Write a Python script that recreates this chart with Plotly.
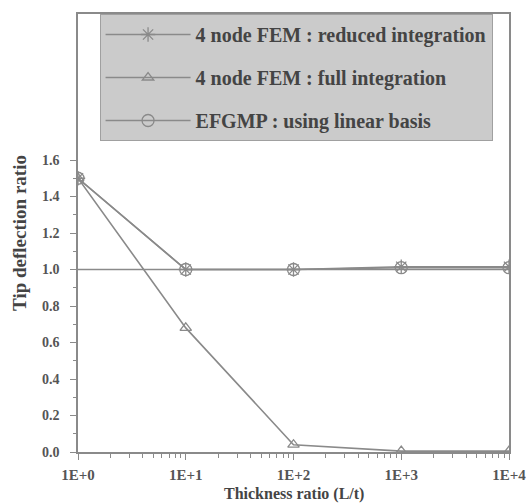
import plotly.graph_objects as go

thickness_ratio = [1, 10, 100, 1000, 10000]
tick_labels = ["1E+0", "1E+1", "1E+2", "1E+3", "1E+4"]
reduced = [1.50, 1.00, 1.00, 1.015, 1.015]
full = [1.50, 0.68, 0.04, 0.005, 0.005]
efgmp = [1.50, 1.00, 1.00, 1.01, 1.01]
exact = 1.0
y_ticks = [0.0, 0.2, 0.4, 0.6, 0.8, 1.0, 1.2, 1.4, 1.6]

names = ["4 node FEM : reduced integration", "4 node FEM : full integration",
         "EFGMP : using linear basis"]
series = [reduced, full, efgmp]
symbols = ["asterisk-open", "triangle-up-open", "circle-open"]
sizes = [12, 10, 12]
col = "#8a8a8a"
font = "Liberation Serif"

fig = go.Figure()
for i, (nm, ys, sym, sz) in enumerate(zip(names, series, symbols, sizes)):
    fig.add_trace(go.Scatter(
        x=thickness_ratio, y=ys, name=nm, mode="lines+markers",
        legendgroup=f"g{i}",
        line=dict(color=col, width=1.6),
        marker=dict(symbol=sym, size=sz, color=col, line=dict(color=col, width=1.3)),
    ))

fig.add_shape(type="line", xref="paper", x0=0, x1=1, yref="y", y0=exact, y1=exact,
              line=dict(color=col, width=1.6), layer="below")

fig.add_annotation(text="Thickness ratio (L/t)", xref="paper", yref="paper",
                   x=0.5, y=0, xanchor="center", yanchor="top", yshift=-31,
                   showarrow=False,
                   font=dict(family=font, size=16, color="#444444", weight="bold"))

minor_x = [m * 10 ** d for d in range(4) for m in range(2, 10)]

fig.update_layout(
    width=529, height=504,
    margin=dict(l=78, r=20, t=14, b=52),
    plot_bgcolor="white", paper_bgcolor="white",
    font=dict(family=font, color="#555555"),
    showlegend=True,
    legend=dict(x=0.05, y=1, xanchor="left", yanchor="top",
                bgcolor="#cbcbcb", bordercolor="#a0a0a0", borderwidth=1,
                font=dict(family=font, size=20, color="#444444", weight="bold"),
                tracegroupgap=14, itemwidth=85),
    xaxis=dict(type="log", range=[0, 4.0], tickvals=thickness_ratio, ticktext=tick_labels,
               ticks="outside", ticklen=6, tickcolor=col, ticklabelstandoff=2,
               automargin=False,
               showline=True, linecolor=col, linewidth=1.5, mirror=True,
               showgrid=False, zeroline=False,
               tickfont=dict(family=font, size=15, color="#555555", weight="bold"),
               minor=dict(tickvals=minor_x, ticks="outside", ticklen=4, tickcolor=col)),
    yaxis=dict(range=[0, 2.4], tickvals=y_ticks, tickformat=".1f",
               ticks="outside", ticklen=6, tickcolor=col, ticklabelstandoff=8,
               automargin=False,
               showline=True, linecolor=col, linewidth=1.5, mirror=True,
               showgrid=False, zeroline=False,
               tickfont=dict(family=font, size=14, color="#555555", weight="bold"),
               minor=dict(tickvals=[0.1, 0.3, 0.5, 0.7, 0.9, 1.1, 1.3, 1.5], ticks="outside",
                          ticklen=3, tickcolor=col),
               title=dict(text="Tip deflection ratio", standoff=10,
                          font=dict(family=font, size=19, color="#444444", weight="bold"))),
)

fig.write_html("out.html")
